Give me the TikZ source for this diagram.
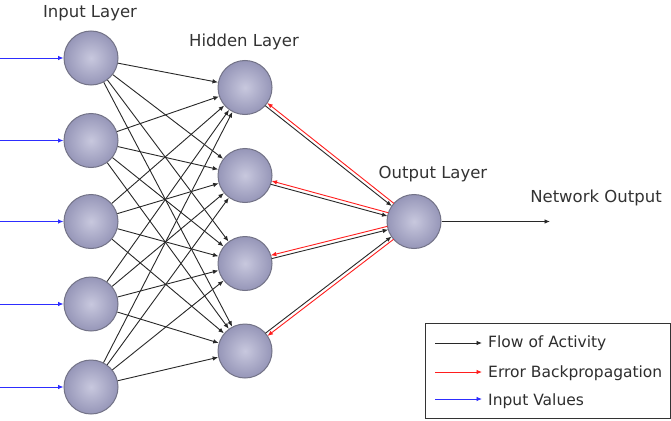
\documentclass[tikz,border=0pt]{standalone}
\usepackage{fontspec}
\setmainfont{DejaVu Sans}
\usetikzlibrary{arrows.meta,calc}
\definecolor{nin}{RGB}{200,200,222}
\definecolor{nout}{RGB}{150,150,184}
\definecolor{nborder}{RGB}{115,115,135}
\definecolor{flow}{RGB}{40,40,40}
\definecolor{err}{RGB}{255,30,30}
\definecolor{inp}{RGB}{45,45,255}
\begin{document}
\begin{tikzpicture}[x=1pt,y=-1pt,
 neuron/.style={circle,minimum size=54pt,inner sep=0pt,draw=nborder,line width=1pt,inner color=nin,outer color=nout},
 tip/.style={-{Latex[length=5.5pt,width=4.5pt]}},
 flowarrow/.style={tip,draw=flow,line width=0.9pt},
 errarrow/.style={tip,draw=err,line width=0.9pt},
 inarrow/.style={tip,draw=inp,line width=0.9pt},
 lbl/.style={anchor=base,inner sep=0pt,font=\fontsize{16.5}{18}\selectfont,text=black!80},
 leg/.style={anchor=base west,inner sep=0pt,font=\fontsize{15.5}{17}\selectfont,text=black!82}]
\useasboundingbox (0,0) rectangle (671,420);
\fill[white] (0,0) rectangle (671,420);
% nodes
\foreach \n/\y in {1/58,2/140.5,3/221.5,4/304,5/387}
  \node[neuron] (i\n) at (91,\y) {};
\foreach \n/\y in {1/87.5,2/175.5,3/263.5,4/351}
  \node[neuron] (h\n) at (245,\y) {};
\node[neuron] (o) at (414,221.5) {};
% labels
\node[lbl] (tin) at (90,17.5) {Input Layer};
\node[lbl] (thid) at (244,47) {Hidden Layer};
\node[lbl] (tout) at (433,178) {Output Layer};
\node[lbl] (tnet) at (596,202) {Network Output};
% input values
\foreach \n/\y in {1/58,2/140.5,3/221.5,4/304,5/387} {
  \coordinate (b\n) at (0,\y);
  \draw[inarrow] (b\n) -- (i\n);
}
% input -> hidden
\foreach \i in {1,...,5}
  \foreach \h in {1,...,4}
    \draw[flowarrow] (i\i) -- (h\h);
% hidden <-> output
\foreach \h/\a/\b in {1/90/-90,2/90/-90,3/90/-90,4/-90/90} {
  \draw[flowarrow,shorten <=27pt,shorten >=27pt] ($(h\h)!1.7pt!\b:(o)$) -- ($(o)!1.7pt!\a:(h\h)$);
  \draw[errarrow,shorten <=27pt,shorten >=27pt] ($(o)!1.7pt!\b:(h\h)$) -- ($(h\h)!1.7pt!\a:(o)$);
}
% network output
\coordinate (nout) at (550,221.5);
\draw[flowarrow] (o) -- (nout);
% legend
\node[draw=black!80,line width=1.3pt,minimum width=245pt,minimum height=95pt,anchor=north west,inner sep=0pt] (legend) at (425,323) {};
\coordinate (l1a) at (435,343); \coordinate (l1b) at (482,343);
\coordinate (l2a) at (435,372); \coordinate (l2b) at (482,372);
\coordinate (l3a) at (435,399); \coordinate (l3b) at (482,399);
\draw[flowarrow] (l1a) -- (l1b);
\draw[errarrow] (l2a) -- (l2b);
\draw[inarrow] (l3a) -- (l3b);
\node[leg] (lt1) at (488,347.5) {Flow of Activity};
\node[leg] (lt2) at (488,377.5) {Error Backpropagation};
\node[leg] (lt3) at (488,405) {Input Values};
\end{tikzpicture}
\end{document}
